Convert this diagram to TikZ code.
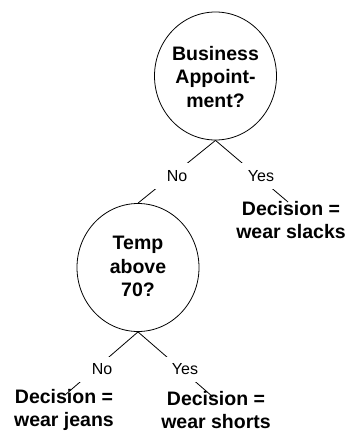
\documentclass[tikz,border=0pt]{standalone}
\usepackage{fontspec}
\setmainfont{Liberation Sans}
\usetikzlibrary{shapes.geometric}
\begin{document}
\begin{tikzpicture}[x=1pt,y=-1pt,
  question/.style={ellipse,draw,line width=0.8pt,minimum width=122pt,minimum height=128pt,inner sep=0pt},
  qtext/.style={anchor=north,align=center,inner sep=0pt,font=\fontsize{19.5}{23.5}\selectfont\bfseries},
  decision/.style={anchor=north,align=center,inner sep=0pt,font=\fontsize{19.5}{23}\selectfont\bfseries},
  answer/.style={fill=white,inner sep=0pt,minimum width=46pt,minimum height=26pt,font=\fontsize{16}{19}\selectfont},
  edge/.style={line width=0.8pt}]
\fill[white] (0,0) rectangle (349,436);
\useasboundingbox (0,0) rectangle (349,436);
% question nodes
\node[question] (q1) at (215.5,76) {};
\node[qtext] (q1t) at (215.5,46) {Business\\Appoint-\\ment?};
\node[question] (q2) at (138,267.5) {};
\node[qtext] (q2t) at (138,236) {Temp\\above\\70?};
% connector end points
\coordinate (e1) at (288,202);
\coordinate (e2) at (65,395);
\coordinate (e3) at (213,397);
% connectors
\draw[edge] (q1.south) -- (q2.north);
\draw[edge] (q1.south) -- (e1);
\draw[edge] (q2.south) -- (e2);
\draw[edge] (q2.south) -- (e3);
% answer labels
\node[answer] (a1) at (177,176) {No};
\node[answer] (a2) at (261,176) {Yes};
\node[answer,minimum height=25pt,minimum width=48pt] (a3) at (102,369) {No};
\node[answer,minimum height=25pt,minimum width=48pt] (a4) at (185,369.5) {Yes};
% decisions
\node[decision] (d1) at (291,201) {Decision =\\wear slacks};
\node[decision] (d2) at (64,389) {Decision =\\wear jeans};
\node[decision] (d3) at (216,391) {Decision =\\wear shorts};
\end{tikzpicture}
\end{document}
